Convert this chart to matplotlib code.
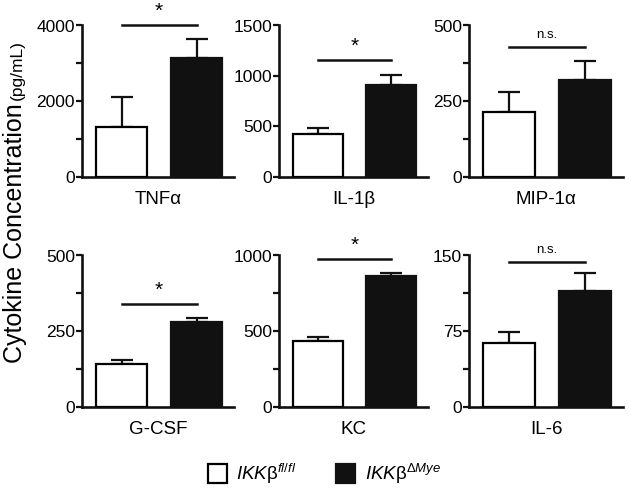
import matplotlib
matplotlib.use('Agg')
import matplotlib.pyplot as plt
from matplotlib.patches import Rectangle

plt.rcParams['font.family'] = ['Liberation Sans', 'DejaVu Sans']
plt.rcParams['mathtext.fontset'] = 'custom'
plt.rcParams['mathtext.rm'] = 'Liberation Sans'
plt.rcParams['mathtext.it'] = 'Liberation Sans:italic'

# data
cytokines = ['TNFα', 'IL-1β', 'MIP-1α', 'G-CSF', 'KC', 'IL-6']
flfl_mean = [1325, 422, 215, 141, 435, 63]
flfl_err = [775, 59, 64, 14, 28, 11]
mye_mean = [3150, 910, 319, 281, 864, 115]
mye_err = [497, 95, 63, 14, 21, 18]
y_max = [4000, 1500, 500, 500, 1000, 150]
major_ticks = [[0, 2000, 4000], [0, 500, 1000, 1500], [0, 250, 500],
               [0, 250, 500], [0, 500, 1000], [0, 75, 150]]
minor_ticks = [[1000, 3000], [], [125, 375], [125, 375], [250, 750], [37.5, 112.5]]
sig_labels = ['*', '*', 'n.s.', '*', '*', 'n.s.']
sig_y = [4020, 1155, 430, 340, 976, 144]
legend_labels = [r'$\mathit{IKK}\mathrm{β}^{\mathit{fl/fl}}$',
                 r'$\mathit{IKK}\mathrm{β}^{\mathrm{Δ}\mathit{Mye}}$']

W, H = 629, 494
fig = plt.figure(figsize=(W / 100, H / 100), dpi=100)

lefts = [82, 279, 469]
widths = [152, 149, 154]
bottoms = [177, 407]  # pixel y of zero line
ax_h = 151.5

lw = 1.6
for i, name in enumerate(cytokines):
    r, c = divmod(i, 3)
    ax = fig.add_axes([lefts[c] / W, 1 - bottoms[r] / H, widths[c] / W, ax_h / H])
    ax.bar([0], [flfl_mean[i]], width=0.68, color='white', edgecolor='black', linewidth=lw, zorder=3)
    ax.bar([1], [mye_mean[i]], width=0.68, color='#111111', edgecolor='#111111', linewidth=lw, zorder=3)
    ax.errorbar([0, 1], [flfl_mean[i], mye_mean[i]],
                yerr=[[0, 0], [flfl_err[i], mye_err[i]]],
                fmt='none', ecolor='#111111', elinewidth=lw, capsize=8, capthick=lw, zorder=2)
    ax.set_xlim(-0.527, 1.5)
    ax.set_ylim(0, y_max[i])
    ax.set_yticks(major_ticks[i])
    ax.set_yticks(minor_ticks[i], minor=True)
    ax.set_xticks([])
    ax.tick_params(axis='y', which='both', direction='out', length=4.5, width=lw,
                   labelsize=12.5, pad=0.5, color='#111111')
    for s in ['top', 'right']:
        ax.spines[s].set_visible(False)
    for s in ['left', 'bottom']:
        ax.spines[s].set_linewidth(lw + 0.3)
        ax.spines[s].set_color('#111111')
    ax.plot([0, 1], [sig_y[i], sig_y[i]], color='#111111', lw=lw + 0.2, clip_on=False)
    if sig_labels[i] == '*':
        ax.annotate('*', (0.5, sig_y[i]), xytext=(0, 3), textcoords='offset points',
                    ha='center', va='bottom', fontsize=15, annotation_clip=False)
    else:
        ax.annotate('n.s.', (0.5, sig_y[i]), xytext=(0, 4), textcoords='offset points',
                    ha='center', va='bottom', fontsize=9.5, annotation_clip=False)
    ax.text(0.5, -23 / ax_h, name, transform=ax.transAxes, ha='center', va='center', fontsize=13.5)

# y label, two sizes sharing one baseline
fig.text(22 / W, 1 - 233 / H, 'Cytokine Concentration', rotation=90, rotation_mode='anchor',
         ha='center', va='baseline', fontsize=18)
fig.text(22 / W, 1 - 70 / H, '(pg/mL)', rotation=90, rotation_mode='anchor',
         ha='center', va='baseline', fontsize=12.5)

# legend
fig.patches.append(Rectangle((208 / W, 1 - 483 / H), 19 / W, 19 / H, transform=fig.transFigure,
                             facecolor='white', edgecolor='black', linewidth=lw))
fig.patches.append(Rectangle((336 / W, 1 - 483 / H), 19 / W, 19 / H, transform=fig.transFigure,
                             facecolor='#111111', edgecolor='#111111', linewidth=lw))
fig.text(236 / W, 1 - 474 / H, legend_labels[0], ha='left', va='center', fontsize=13.5)
fig.text(365 / W, 1 - 474 / H, legend_labels[1], ha='left', va='center', fontsize=13.5)

fig.savefig('out.png', dpi=100)
